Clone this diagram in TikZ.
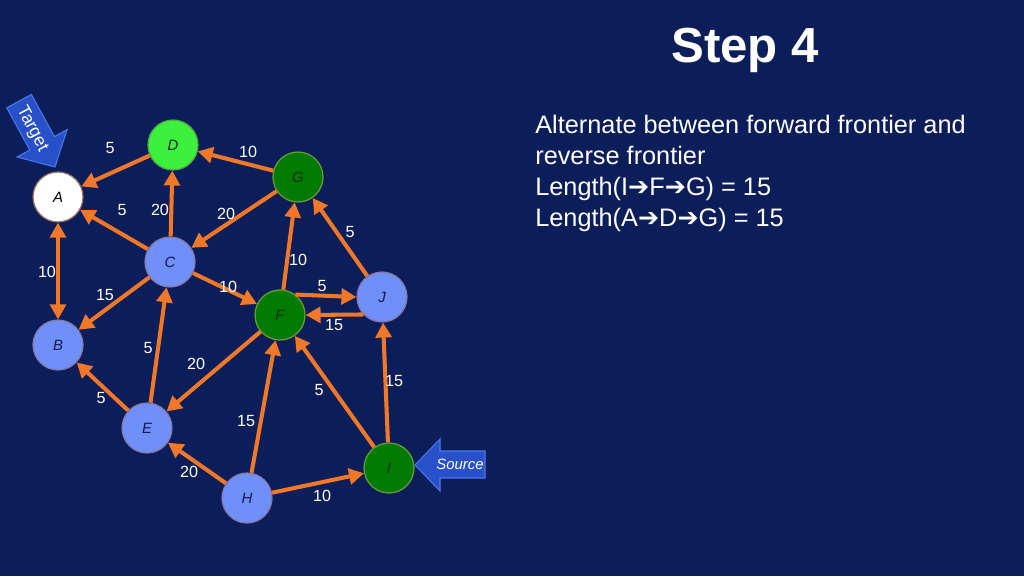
\documentclass[tikz,border=0pt]{standalone}
\usepackage{fontspec}
\setmainfont{Liberation Sans}
\newfontfamily\symfont{DejaVu Sans}
\usetikzlibrary{arrows.meta}
\definecolor{bg}{HTML}{0C1E5A}
\definecolor{edgeor}{HTML}{F07828}
\definecolor{bluen}{HTML}{6E90F8}
\definecolor{bluebd}{HTML}{8478A8}
\definecolor{dgreen}{HTML}{017A01}
\definecolor{dgreenbd}{HTML}{6E9A30}
\definecolor{lgreen}{HTML}{3CF03C}
\definecolor{lgreenbd}{HTML}{50A840}
\definecolor{whitebd}{HTML}{9A6A5A}
\definecolor{ptrfill}{HTML}{2850C8}
\definecolor{ptrbd}{HTML}{4A78E8}
\definecolor{navytext}{HTML}{101A50}
\definecolor{greentext}{HTML}{0A300A}
\begin{document}
\begin{tikzpicture}[x=0.02cm,y=-0.02cm,
  vtx/.style={circle,minimum size=1cm,inner sep=0pt,line width=0.7pt,
    font=\fontsize{8.5}{10}\selectfont\itshape},
  bnode/.style={vtx,fill=bluen,draw=bluebd,text=navytext},
  gnode/.style={vtx,fill=dgreen,draw=dgreenbd,text=greentext},
  lnode/.style={vtx,fill=lgreen,draw=lgreenbd,text=greentext},
  wnode/.style={vtx,fill=white,draw=whitebd,text=black},
  edge/.style={draw=edgeor,line width=2.3pt,-{Triangle[length=8.5pt,width=9pt]}},
  biedge/.style={draw=edgeor,line width=2.3pt,{Triangle[length=8.5pt,width=9pt]}-{Triangle[length=8.5pt,width=9pt]}},
  wt/.style={text=white,font=\fontsize{9.2}{10}\selectfont,inner sep=0pt},
  ptr/.style={fill=ptrfill,draw=ptrbd,line width=0.6pt},
  ptrtext/.style={text=white,font=\fontsize{8.5}{10}\selectfont\itshape,inner sep=0pt},
  body/.style={text=white,font=\fontsize{14.4}{17.6}\selectfont,inner sep=0pt,anchor=base west}
]
\useasboundingbox (0,0) rectangle (1024,576);
\fill[bg] (0,0) rectangle (1024,576);

% nodes
\node[wnode] (A) at (58,197) {A};
\node[lnode] (D) at (173,145) {D};
\node[gnode] (G) at (298,177) {G};
\node[bnode] (C) at (170,262) {C};
\node[bnode] (B) at (58,345) {B};
\node[gnode] (F) at (280,315) {F};
\node[bnode] (J) at (382,297) {J};
\node[bnode] (E) at (147,428) {E};
\node[bnode] (H) at (247,498) {H};
\node[gnode] (I) at (389,468) {I};

% edges
\draw[edge] (D) -- (A);
\draw[edge] (G) -- (D);
\draw[edge] (C) -- (A);
\draw[edge] (C) -- (D);
\draw[edge] (G) -- (C);
\draw[biedge] (A) -- (B);
\draw[edge] (C) -- (B);
\draw[edge] (C) -- (F);
\draw[edge] (F) -- (G);
\draw[edge] (F.53) -- (J.west);
\draw[edge] (J.223) -- (F.east);
\draw[edge] (J) -- (G);
\draw[edge] (E) -- (C);
\draw[edge] (F) -- (E);
\draw[edge] (E) -- (B);
\draw[edge] (H) -- (F);
\draw[edge] (I) -- (F);
\draw[edge] (I) -- (J);
\draw[edge] (H) -- (E);
\draw[edge] (H) -- (I);

% weights
\node[wt] (wDA) at (110,148) {5};
\node[wt] (wGD) at (248,152) {10};
\node[wt] (wCA) at (122,210) {5};
\node[wt] (wCD) at (160,210) {20};
\node[wt] (wGC) at (226,214) {20};
\node[wt] (wAB) at (47,272) {10};
\node[wt] (wCB) at (105,295) {15};
\node[wt] (wCF) at (228,287) {10};
\node[wt] (wFG) at (298,260) {10};
\node[wt] (wFJ) at (322,286) {5};
\node[wt] (wJF) at (334,325) {15};
\node[wt] (wJG) at (350,232) {5};
\node[wt] (wEC) at (148,348) {5};
\node[wt] (wFE) at (196,364) {20};
\node[wt] (wEB) at (101,398) {5};
\node[wt] (wHF) at (246,421) {15};
\node[wt] (wIF) at (319,390) {5};
\node[wt] (wIJ) at (394,381) {15};
\node[wt] (wHE) at (189,472) {20};
\node[wt] (wHI) at (322,496) {10};

% Target pointer
\path[ptr] (55,167) -- (67.1,129.6) -- (54.4,136.6) -- (31.4,94.4) -- (6.8,107.8) -- (29.8,150.0) -- (17.1,157.0) -- cycle;
\node[ptrtext,font=\fontsize{10}{11}\selectfont,rotate=-62] (tgt) at (32,129) {Target};

% Source pointer
\path[ptr] (415,465) -- (440,439) -- (440,451) -- (485,451) -- (485,478) -- (440,478) -- (440,491) -- cycle;
\node[ptrtext] (src) at (460,464) {Source};

% title and text
\node[text=white,font=\fontsize{28}{32}\selectfont\bfseries,inner sep=0pt,anchor=base] (title) at (745,62) {Step 4};
\node[body] (l1) at (535,133) {Alternate between forward frontier and};
\node[body] (l2) at (535,164) {reverse frontier};
\node[body] (l3) at (535,195) {Length(I{\symfont ➔}F{\symfont ➔}G) = 15};
\node[body] (l4) at (535,226) {Length(A{\symfont ➔}D{\symfont ➔}G) = 15};
\end{tikzpicture}
\end{document}
